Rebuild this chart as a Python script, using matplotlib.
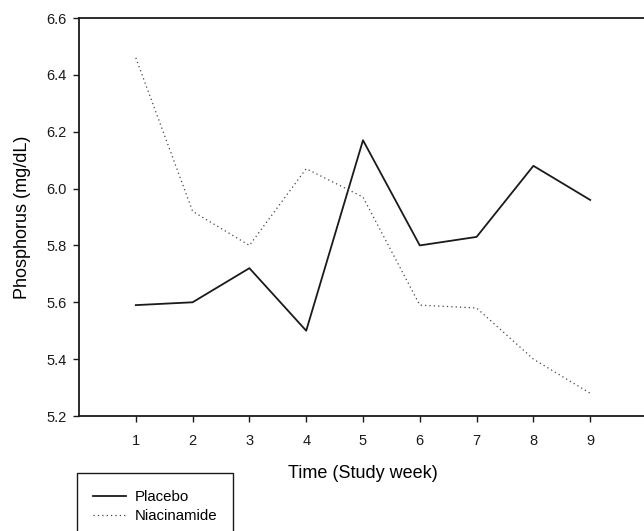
import matplotlib
matplotlib.use("Agg")
import matplotlib.pyplot as plt
from matplotlib.patches import Rectangle

# Phosphorus by study week
weeks = [1, 2, 3, 4, 5, 6, 7, 8, 9]
placebo = [5.59, 5.60, 5.72, 5.50, 6.17, 5.80, 5.83, 6.08, 5.96]
niacinamide = [6.46, 5.92, 5.80, 6.07, 5.97, 5.59, 5.58, 5.40, 5.28]
yticks = [5.2, 5.4, 5.6, 5.8, 6.0, 6.2, 6.4, 6.6]

plt.rcParams['font.family'] = ['Liberation Sans', 'DejaVu Sans']

W, H = 644, 531
fig = plt.figure(figsize=(W / 100, H / 100), dpi=100)
ax = fig.add_axes([79 / W, (H - 416) / H, (647 - 79) / W, (416 - 18) / H])

l1, = ax.plot(weeks, placebo, color="#1a1a1a", lw=1.3, label="Placebo")
l2, = ax.plot(weeks, niacinamide, color="#444444", lw=0.9,
              linestyle=(0, (1, 2.5)), label="Niacinamide")

ax.set_xlim(0, 10)
ax.set_ylim(5.2, 6.6)
ax.set_xticks(weeks)
ax.set_yticks(yticks)
ax.set_yticklabels(["%.1f" % v for v in yticks])
ax.tick_params(direction="out", length=4, width=1, labelsize=10.5,
               colors="#1a1a1a", pad=5)
ax.tick_params(axis="x", pad=9)
for s in ax.spines.values():
    s.set_linewidth(1.3)
    s.set_color("#1a1a1a")

ax.set_xlabel("Time (Study week)", fontsize=13, labelpad=12)
ax.set_ylabel("Phosphorus (mg/dL)", fontsize=13, labelpad=11)

# legend box, cut off at the bottom like the source
fig.patches.append(Rectangle((77 / W, -0.05), (233 - 77) / W, (H - 473) / H + 0.05,
                             transform=fig.transFigure, fill=False,
                             edgecolor="#1a1a1a", lw=1.0))
fig.legend(handles=[l1, l2], loc="upper left",
           bbox_to_anchor=(87 / W, 1 - 484 / H), frameon=False,
           fontsize=10.8, handlelength=2.2, handletextpad=0.6,
           labelspacing=0.35, borderaxespad=0)

fig.savefig("out.png", dpi=100)
